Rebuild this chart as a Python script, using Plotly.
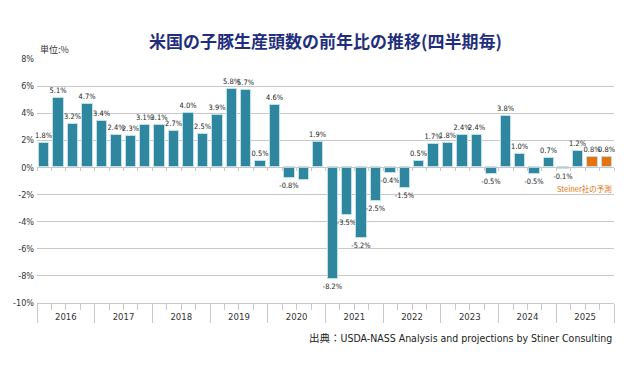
import plotly.graph_objects as go

years = ["2016", "2017", "2018", "2019", "2020", "2021", "2022", "2023", "2024", "2025"]
quarters_per_year = 4
values = [
    1.8, 5.1, 3.2, 4.7,
    3.4, 2.4, 2.3, 3.1,
    3.1, 2.7, 4.0, 2.5,
    3.9, 5.8, 5.7, 0.5,
    4.6, -0.8, -0.9, 1.9,
    -8.2, -3.5, -5.2, -2.5,
    -0.4, -1.5, 0.5, 1.7,
    1.8, 2.4, 2.4, -0.5,
    3.8, 1.0, -0.5, 0.7,
    -0.1, 1.2, 0.8, 0.8,
]
show_label = [True] * 40
show_label[18] = False
forecast = [False] * 38 + [True, True]
y_ticks = [8, 6, 4, 2, 0, -2, -4, -6, -8, -10]

TEAL = "#2f879f"
ORANGE = "#e8720c"
NARROW = "Liberation Sans Narrow, DejaVu Sans Condensed, Arial Narrow, sans-serif"
JP = "Noto Sans CJK JP, sans-serif"

n = len(values)
xs = list(range(n))
labels = [f"{v:.1f}%" if s else "" for v, s in zip(values, show_label)]
colors = [ORANGE if f else TEAL for f in forecast]

fig = go.Figure()
fig.add_trace(go.Bar(
    x=xs, y=values, width=0.72,
    marker=dict(color=colors, line=dict(color="#bfe0e8", width=1)),
    text=labels, textposition="outside", cliponaxis=False,
    constraintext="none",
    textfont=dict(family=NARROW, size=7.4, color="#222222"),
    hoverinfo="skip",
))

year_bounds = [i * quarters_per_year - 0.5 for i in range(len(years) + 1)]
quarter_bounds = [i - 0.5 for i in range(n + 1)]
year_centers = [i * quarters_per_year + 1.5 for i in range(len(years))]

zero_pos = (0 - min(y_ticks)) / (max(y_ticks) - min(y_ticks))

fig.update_layout(
    width=630, height=370,
    margin=dict(l=37, r=16, t=59, b=67),
    paper_bgcolor="white", plot_bgcolor="white",
    showlegend=False,
    bargap=0,
    title=dict(text="米国の子豚生産頭数の前年比の推移(四半期毎)",
               font=dict(family=JP, size=17, color="#1f2f7d", weight="bold"),
               x=0.5, xref="paper", xanchor="center", y=1 - 42 / 370, yref="container", yanchor="middle"),
    xaxis=dict(range=[-0.5, n - 0.5], tickmode="array", tickvals=year_bounds,
               ticks="outside", ticklen=19, tickcolor="#c8c8c8", tickwidth=1,
               showticklabels=False, showgrid=False, zeroline=False,
               showline=True, linecolor="#c8c8c8", linewidth=1, automargin=False,
               minor=dict(tickmode="array", tickvals=quarter_bounds, ticks="outside",
                          ticklen=6, tickcolor="#c8c8c8", tickwidth=1, showgrid=False)),
    xaxis2=dict(range=[-0.5, n - 0.5], overlaying="x", anchor="y", side="bottom",
                tickmode="array", tickvals=year_centers, ticktext=years,
                ticks="", showline=False, showgrid=False, zeroline=False, automargin=False,
                tickfont=dict(family=NARROW, size=9.5, color="#333333"), ticklabelstandoff=6),
    xaxis3=dict(range=[-0.5, n - 0.5], overlaying="x", anchor="free", position=zero_pos,
                side="bottom", tickmode="array", tickvals=quarter_bounds,
                ticks="outside", ticklen=3, tickcolor="#c8c8c8", automargin=False,
                showticklabels=False, showline=True, linecolor="#c8c8c8",
                showgrid=False, zeroline=False),
    yaxis=dict(range=[min(y_ticks), max(y_ticks)], tickmode="array", tickvals=y_ticks,
               ticktext=[f"{t}%" for t in y_ticks], automargin=False,
               showgrid=True, gridcolor="#c8c8c8", gridwidth=1, zeroline=False,
               showline=False, ticks="", ticklabelstandoff=2,
               tickfont=dict(family=NARROW, size=9, color="#333333")),
)

# invisible traces to activate overlay axes
fig.add_trace(go.Scatter(x=[xs[0]], y=[values[0]], xaxis="x2", mode="markers",
                         marker=dict(opacity=0), hoverinfo="skip"))
fig.add_trace(go.Scatter(x=[xs[0]], y=[values[0]], xaxis="x3", mode="markers",
                         marker=dict(opacity=0), hoverinfo="skip"))

fig.add_annotation(text="単位:%", xref="paper", yref="paper", x=0.0, y=1.0,
                   xanchor="left", yanchor="bottom", xshift=1, yshift=1, showarrow=False,
                   font=dict(family=JP, size=9, color="#333333"))
fig.add_annotation(text="Steiner社の予測", xref="paper", yref="y", x=1.0, y=-1.55,
                   xanchor="right", yanchor="middle", showarrow=False,
                   font=dict(family=JP, size=7.5, color=ORANGE))
fig.add_annotation(text="出典：USDA-NASS Analysis and projections by Stiner Consulting",
                   xref="paper", yref="paper", x=1.0, y=0, xanchor="right", yanchor="middle",
                   yshift=-35, showarrow=False,
                   font=dict(family=NARROW + ", " + JP, size=10.5, color="#222222"))

fig.write_html("out.html", config={"displayModeBar": False},
               post_script="document.body.style.margin='0px';")
